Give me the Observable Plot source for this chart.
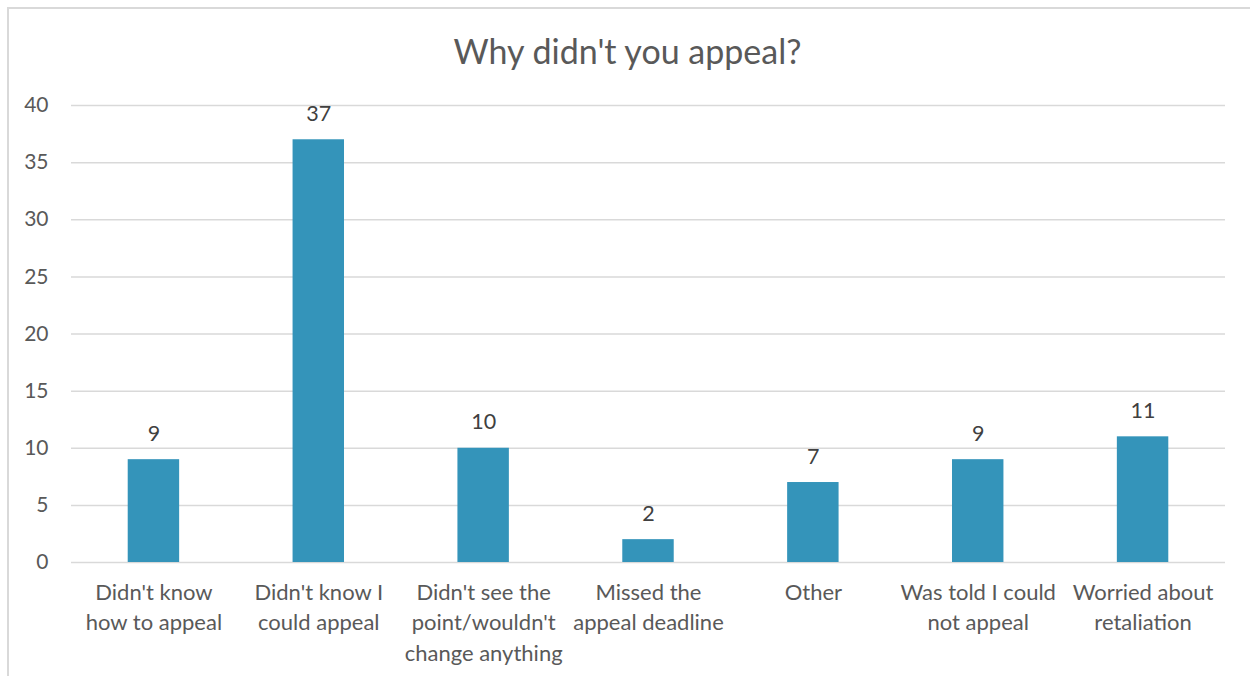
<!DOCTYPE html>
<html>
<head>
<meta charset="utf-8">
<script src="https://cdn.jsdelivr.net/npm/d3@7"></script>
<script src="https://cdn.jsdelivr.net/npm/@observablehq/plot@0.6"></script>
<style>
  html, body { margin: 0; padding: 0; background: #fff; overflow: hidden; }
  #wrap { position: relative; width: 1250px; height: 676px; overflow: hidden; background: #fff; }
  #frame { position: absolute; left: 7px; top: 7px; width: 1300px; height: 700px;
           border-left: 2px solid #d9d9d9; border-top: 2px solid #d9d9d9; pointer-events: none; }
  #title { height: 85px; box-sizing: border-box; padding-top: 31px; text-align: center;
           font-family: Lato, sans-serif; font-size: 34px; line-height: 40px; color: #595959; padding-left: 5px; }
</style>
</head>
<body>
<div id="wrap">
  <div id="title">Why didn't you appeal?</div>
  <div id="chart"></div>
  <div id="frame"></div>
</div>
<script>
const categories = [
  "Didn't know how to appeal",
  "Didn't know I could appeal",
  "Didn't see the point/wouldn't change anything",
  "Missed the appeal deadline",
  "Other",
  "Was told I could not appeal",
  "Worried about retaliation"
];
const values = [9, 37, 10, 2, 7, 9, 11];
const tickLabels = [
  "Didn't know\nhow to appeal",
  "Didn't know I\ncould appeal",
  "Didn't see the\npoint/wouldn't\nchange anything",
  "Missed the\nappeal deadline",
  "Other",
  "Was told I could\nnot appeal",
  "Worried about\nretaliation"
];
const yTicks = [0, 5, 10, 15, 20, 25, 30, 35, 40];

const data = categories.map((c, i) => ({category: c, value: values[i]}));
const labelOf = new Map(categories.map((c, i) => [c, tickLabels[i]]));

const chart = Plot.plot({
  width: 1250,
  height: 591,
  marginLeft: 71,
  marginRight: 25,
  marginTop: 20,
  marginBottom: 114,
  style: {fontFamily: "Lato, sans-serif", fontSize: "21px", color: "#595959", background: "transparent"},
  x: {domain: categories, paddingInner: 0.688, paddingOuter: 0.344, round: false, label: null},
  y: {domain: [0, 40], label: null},
  marks: [
    Plot.gridY(yTicks, {stroke: "#d9d9d9", strokeOpacity: 1, strokeWidth: 1.5}),
    Plot.barY(data, {x: "category", y: "value", fill: "#3494BA"}),
    Plot.text(data, {x: "category", y: "value", text: d => String(d.value), dy: -19,
                     lineAnchor: "bottom", fill: "#404040", fontSize: 21.5}),
    Plot.axisY(yTicks, {tickSize: 0, tickPadding: 23, fill: "#595959", label: null, fontSize: 21}),
    Plot.axisX({tickSize: 0, tickPadding: 16, tickFormat: d => labelOf.get(d), lineHeight: 1.38,
                fill: "#595959", label: null, fontSize: 22})
  ]
});
document.getElementById("chart").appendChild(chart);
</script>
</body>
</html>
